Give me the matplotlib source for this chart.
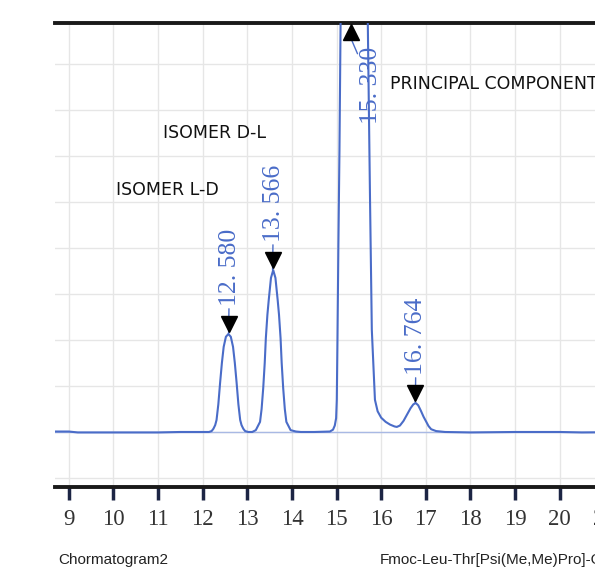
import matplotlib
matplotlib.use("Agg")
import matplotlib.pyplot as plt
import matplotlib.transforms as mtransforms

# trace (time in min, signal in mAU)
tiempo = [8.69, 9.00, 9.20, 10.00, 11.00, 11.50, 12.00, 12.14,
          12.20, 12.24, 12.28, 12.31, 12.35, 12.39, 12.43, 12.47, 12.52, 12.575,
          12.63, 12.68, 12.72, 12.76, 12.80, 12.84, 12.87, 12.91, 12.95, 13.02,
          13.11, 13.19, 13.285, 13.32, 13.356, 13.39, 13.415, 13.45, 13.48, 13.53,
          13.58, 13.63, 13.68, 13.71, 13.745, 13.77, 13.804, 13.84, 13.875, 13.97,
          14.09, 14.20, 14.50, 14.85, 14.92, 14.96, 14.99, 15.005, 15.02, 15.04,
          15.065, 15.09, 15.15, 15.33, 15.55, 15.70, 15.75, 15.79, 15.83, 15.86,
          15.92, 16.00, 16.10, 16.20, 16.30, 16.35, 16.42, 16.50, 16.58, 16.66,
          16.72, 16.774, 16.83, 16.89, 16.95, 17.00, 17.06, 17.12, 17.23, 17.43,
          18.00, 19.00, 20.00, 20.50, 21.80]
sinal = [1, 1, -1, -1, -1, 0, 0, 0,
         2, 7, 15, 26, 60, 107, 150, 185, 207, 213,
         207, 185, 150, 107, 60, 26, 15, 7, 2, 0,
         0, 4, 22, 50, 95, 150, 204, 255, 287, 335,
         352, 335, 287, 255, 204, 150, 95, 50, 22, 4,
         1, 0, 0, 1, 5, 14, 30, 70, 200, 400,
         613, 889, 1600, 2400, 1700, 889, 504, 222, 135, 70,
         45, 31, 22, 16, 12, 11, 14, 24, 38, 52,
         60, 63, 58, 46, 33, 24, 13, 6, 2, 0,
         -1, 0, 0, -1, 0]

# integrated peaks
picos_tempo = [12.580, 13.566, 16.764]
picos_altura = [213, 352, 63]
picos_rotulo = ["12. 580", "13. 566", "16. 764"]
principal_tempo = 15.330
principal_rotulo = "15. 330"

anotacoes = [("ISOMER D-L", 163, 133), ("ISOMER L-D", 116, 190),
             ("PRINCIPAL COMPONENT", 390, 84)]

azul = "#4a6cc8"
W, H = 595, 569

fig = plt.figure(figsize=(W / 100, H / 100), dpi=100)
ax = fig.add_axes([55 / W, 1 - 487 / H, 585 / W, (487 - 23) / H])

ax.plot(tiempo, sinal, color=azul, lw=1.5, zorder=3)
ax.axhline(0, color="#a9b9e4", lw=1, zorder=2)

ax.set_xlim(8.69, 21.80)
ax.set_ylim(-119.6, 889.1)
ax.set_xticks(range(9, 22))
ax.set_yticks(range(-100, 900, 100))
ax.grid(True, color="#e6e6e6", lw=1, zorder=0)
ax.tick_params(axis="y", left=False, labelleft=False)
ax.tick_params(axis="x", direction="out", length=9, width=2.5, color="#1c2544",
               pad=7, labelsize=16.5, labelcolor="#333333")
for lab in ax.get_xticklabels():
    lab.set_fontfamily("Liberation Serif")
for lado in ["left", "right"]:
    ax.spines[lado].set_visible(False)
for lado in ["top", "bottom"]:
    ax.spines[lado].set_linewidth(2.8)
    ax.spines[lado].set_color("#1a1a1a")

# peak markers and retention time labels
marca = mtransforms.offset_copy(ax.transData, fig=fig, x=0, y=10, units="dots")
ax.plot(picos_tempo, picos_altura, "v", color="black", ms=11, transform=marca,
        zorder=5, clip_on=False)
for t, h, rot in zip(picos_tempo, picos_altura, picos_rotulo):
    ax.annotate(rot, xy=(t, h), xytext=(1, 28), textcoords="offset pixels",
                rotation=90, ha="center", va="bottom", color=azul,
                fontsize=18.5, family="Liberation Serif",
                arrowprops=dict(arrowstyle="-", color=azul, lw=1,
                                shrinkA=0, shrinkB=0))

topo = mtransforms.blended_transform_factory(ax.transData, ax.transAxes)
ax.plot([principal_tempo], [0.98], "^", color="black", ms=11, transform=topo,
        zorder=5, clip_on=False)
ax.annotate(principal_rotulo, xy=(principal_tempo, 0.965), xycoords=topo,
            xytext=(20, -8), textcoords="offset pixels", rotation=90,
            ha="center", va="top", color=azul, fontsize=18.5,
            family="Liberation Serif",
            arrowprops=dict(arrowstyle="-", color=azul, lw=1,
                            shrinkA=0, shrinkB=0))

for txt, px, py in anotacoes:
    fig.text(px / W, 1 - py / H, txt, ha="left", va="center", fontsize=12.5,
             color="#111111", family="DejaVu Sans")

fig.text(58 / W, 1 - 560 / H, "Chormatogram2", ha="left", va="center",
         fontsize=11, color="#222222", family="Liberation Sans")
fig.text(380 / W, 1 - 560 / H, "Fmoc-Leu-Thr[Psi(Me,Me)Pro]-OH", ha="left",
         va="center", fontsize=11, color="#222222", family="Liberation Sans")

fig.savefig("out.png", dpi=100)
